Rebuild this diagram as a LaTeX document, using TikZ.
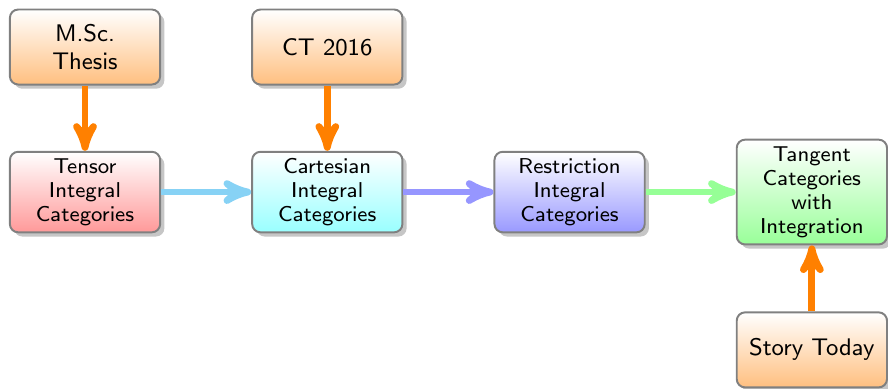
\documentclass[tikz,border=0pt]{standalone}
\usepackage{amssymb, amsmath}
\usepackage{tikz}
\usetikzlibrary{arrows,shadows}

\definecolor{skyarrow}{RGB}{135,210,245}
\definecolor{violetarrow}{RGB}{150,150,255}
\definecolor{greenarrow}{RGB}{150,255,150}

\font\boxfont=cmss8 at 11pt
\font\talkfont=cmss9 at 12.3pt
\newcommand{\boxsize}{\boxfont\baselineskip=12.4pt\relax}
\newcommand{\talksize}{\talkfont\baselineskip=14.4pt\relax}

\begin{document}
\begin{tikzpicture}[node distance=4.36cm,>=stealth',auto]

		\tikzstyle{every node}=[font=\boxsize]
		\tikzstyle{box}=[draw=gray,line width=1pt,rounded corners=0.15cm,text width=2.47cm,align=center,minimum height=1.35cm,drop shadow={opacity=0.45},top color=white]
		\tikzstyle{talk}=[box,bottom color=orange!50,font=\talksize]
		\tikzstyle{link}=[->,line width=3.5pt]

		\useasboundingbox (0,0) rectangle (15.98,-7.0);

		\node[box,bottom color=red!40] (tensor) at (1.53,-3.456) {Tensor\\Integral\\Categories};
		\node[box,bottom color=cyan!40] (cartesian) [right of=tensor] {Cartesian\\Integral\\Categories};
		\node[box,bottom color=blue!40] (restriction) [right of=cartesian] {Restriction\\Integral\\Categories};
		\node[box,bottom color=green!40] (tangent) [right of=restriction] {Tangent\\Categories\\with\\Integration};
		\node[talk] (thesis) [above of=tensor,node distance=2.61cm] {M.Sc.\\Thesis};
		\node[talk] (ct) [above of=cartesian,node distance=2.61cm] {CT 2016};
		\node[talk] (story) [below of=tangent,node distance=2.84cm] {Story Today};

		\path[link] (thesis) edge[orange] (tensor)
					(ct) edge[orange] (cartesian)
					(story) edge[orange] (tangent)
					(tensor) edge[skyarrow] (cartesian)
					(cartesian) edge[violetarrow] (restriction)
					(restriction) edge[greenarrow] (tangent);
\end{tikzpicture}
\end{document}
